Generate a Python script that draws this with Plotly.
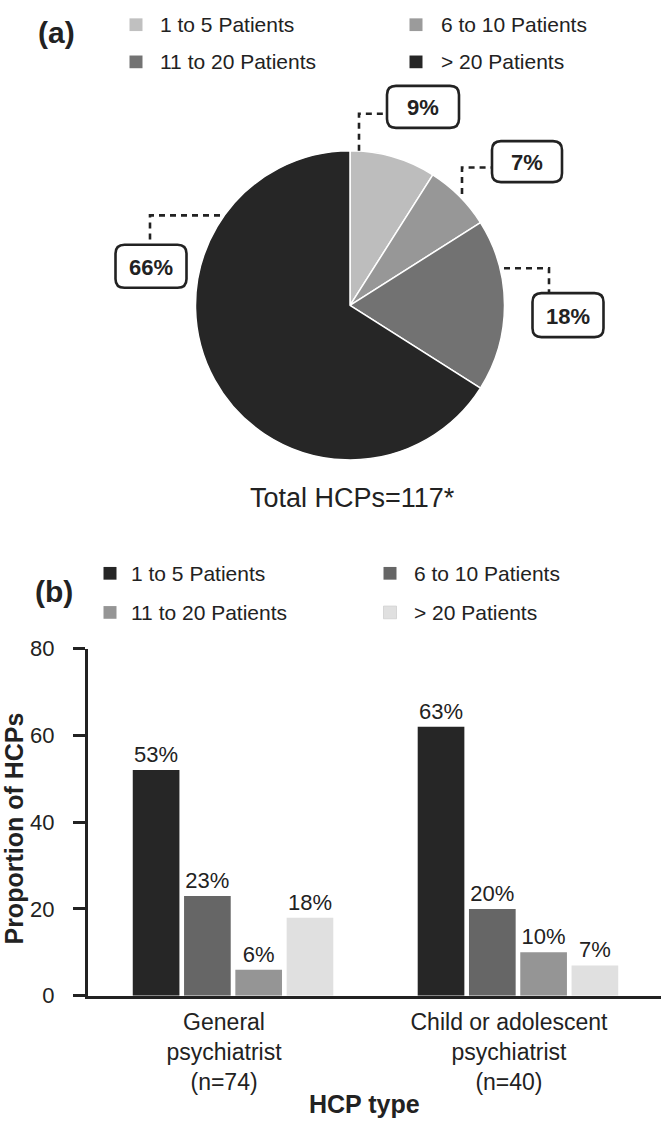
import plotly.graph_objects as go

W, H = 661, 1131
FONT = "Liberation Sans, Arial, sans-serif"
INK = "#222222"

# ---------------- data: panel (a) ----------------
pie_labels = ["1 to 5 Patients", "6 to 10 Patients", "11 to 20 Patients", "> 20 Patients"]
pie_values = [9, 7, 18, 66]
pie_text = ["9%", "7%", "18%", "66%"]
pie_colors = ["#bdbdbd", "#979797", "#727272", "#262626"]
pie_legend_colors = ["#c0c0c0", "#9b9b9b", "#737373", "#262626"]
pie_caption = "Total HCPs=117*"

# ---------------- data: panel (b) ----------------
hcp_types = ["General<br>psychiatrist<br>(n=74)", "Child or adolescent<br>psychiatrist<br>(n=40)"]
series_names = ["1 to 5 Patients", "6 to 10 Patients", "11 to 20 Patients", "> 20 Patients"]
vals_1to5 = [52, 62]
vals_6to10 = [23, 20]
vals_11to20 = [6, 10]
vals_gt20 = [18, 7]
text_1to5 = ["53%", "63%"]
text_6to10 = ["23%", "20%"]
text_11to20 = ["6%", "10%"]
text_gt20 = ["18%", "7%"]
bar_colors = ["#262626", "#666666", "#959595", "#e0e0e0"]
y_ticks = [0, 20, 40, 60, 80]


def px(x):
    return x / W


def py(y):
    return 1 - y / H


fig = go.Figure()

# pie (centre 350,300, radius 158 px)
fig.add_trace(go.Pie(
    labels=pie_labels, values=pie_values, sort=False, direction="clockwise",
    marker=dict(colors=pie_colors, line=dict(color="white", width=1.5)),
    textinfo="none", hoverinfo="label+percent", showlegend=False,
    domain=dict(x=[px(192), px(508)], y=[py(458), py(142)]),
))

series_vals = [vals_1to5, vals_6to10, vals_11to20, vals_gt20]
series_text = [text_1to5, text_6to10, text_11to20, text_gt20]
for name, v, t, c in zip(series_names, series_vals, series_text, bar_colors):
    fig.add_trace(go.Bar(
        x=hcp_types, y=v, name=name, marker=dict(color=c, line=dict(width=0)),
        text=t, textposition="outside", textfont=dict(size=22, color=INK, family=FONT),
        cliponaxis=False, constraintext="none", showlegend=False,
    ))

shapes = []
annotations = []


def note(x, y, text, size, **kw):
    d = dict(x=px(x), y=py(y), xref="paper", yref="paper", text=text, showarrow=False,
             xanchor="center", yanchor="middle", font=dict(size=size, color=INK, family=FONT))
    d.update(kw)
    annotations.append(d)


def rrect(cx, cy, w, h, r):
    x0, x1, y0, y1 = cx - w / 2, cx + w / 2, cy - h / 2, cy + h / 2
    pts = [("M", [(x0 + r, y0)]), ("L", [(x1 - r, y0)]), ("Q", [(x1, y0), (x1, y0 + r)]),
           ("L", [(x1, y1 - r)]), ("Q", [(x1, y1), (x1 - r, y1)]), ("L", [(x0 + r, y1)]),
           ("Q", [(x0, y1), (x0, y1 - r)]), ("L", [(x0, y0 + r)]), ("Q", [(x0, y0), (x0 + r, y0)])]
    s = ""
    for cmd, ps in pts:
        s += cmd + " ".join(f"{px(a):.5f},{py(b):.5f}" for a, b in ps) + " "
    return s + "Z"


def polyline(points):
    return "M" + " L".join(f"{px(a):.5f},{py(b):.5f}" for a, b in points)


# callouts for pie percentages: (box centre, box size, leader path)
callouts = [
    ((423, 97), (72, 43), [(359, 142), (359, 104), (387, 104)]),
    ((527, 153), (70, 42), [(462, 186), (462, 159), (492, 159)]),
    ((568, 310), (71, 45), [(504, 262), (549, 262), (549, 287)]),
    ((151, 260), (71, 44), [(220, 208), (150, 208), (150, 238)]),
]
for txt, ((cx, cy), (bw, bh), lead) in zip(pie_text, callouts):
    shapes.append(dict(type="path", xref="paper", yref="paper", path=polyline(lead),
                       line=dict(color=INK, width=2.6, dash="6px,5px")))
    shapes.append(dict(type="path", xref="paper", yref="paper", path=rrect(cx, cy, bw, bh, 9),
                       line=dict(color=INK, width=2.6), fillcolor="white"))
    note(cx, cy + 1, f"<b>{txt}</b>", 22)


# manual 2 x 2 legends
def add_legend(names, colors, marker_x, text_x, row_y):
    for i, (n, c) in enumerate(zip(names, colors)):
        mx, tx, my = marker_x[i % 2], text_x[i % 2], row_y[i // 2]
        shapes.append(dict(type="rect", xref="paper", yref="paper",
                           x0=px(mx - 6.5), x1=px(mx + 6.5), y0=py(my + 6.5), y1=py(my - 6.5),
                           fillcolor=c, line=dict(width=0.8 if c == "#e0e0e0" else 0, color="#cfcfcf")))
        note(tx, my, n, 21, xanchor="left")


add_legend(pie_labels, pie_legend_colors, [136, 416], [158, 439], [13, 51])
add_legend(series_names, bar_colors, [110, 390], [129, 412], [574, 614])

note(56, 21, "<b>(a)</b>", 30)
note(54, 593, "<b>(b)</b>", 30)
note(352, 497, pie_caption, 27)
note(14, 835, "<b>Proportion of HCPs</b>", 25, textangle=-90)
note(364, 1117, "<b>HCP type</b>", 25)

fig.update_layout(
    width=W, height=H, margin=dict(l=0, r=0, t=0, b=0),
    paper_bgcolor="white", plot_bgcolor="white",
    font=dict(family=FONT, color=INK, size=21),
    barmode="group", bargap=0.28, bargroupgap=0.09,
    shapes=shapes, annotations=annotations,
    xaxis=dict(domain=[px(88), 1], range=[-0.509, 1.502], showline=True, linewidth=3,
               linecolor=INK, ticks="", showgrid=False, zeroline=False,
               tickfont=dict(size=23, color=INK, family=FONT), ticklabelstandoff=4,
               ticklabelshift=-9, anchor="y"),
    yaxis=dict(domain=[py(1006), py(651)], range=[0, 80], tickvals=y_ticks, showline=True,
               linewidth=3, linecolor=INK, ticks="outside", ticklen=12, tickwidth=3,
               tickcolor=INK, showgrid=False, zeroline=False, ticklabelstandoff=14,
               tickfont=dict(size=22, color=INK, family=FONT), anchor="x"),
)

fig.write_html("out.html", config={"displayModeBar": False},
               post_script="document.body.style.margin='0px';document.body.style.overflow='hidden';")
